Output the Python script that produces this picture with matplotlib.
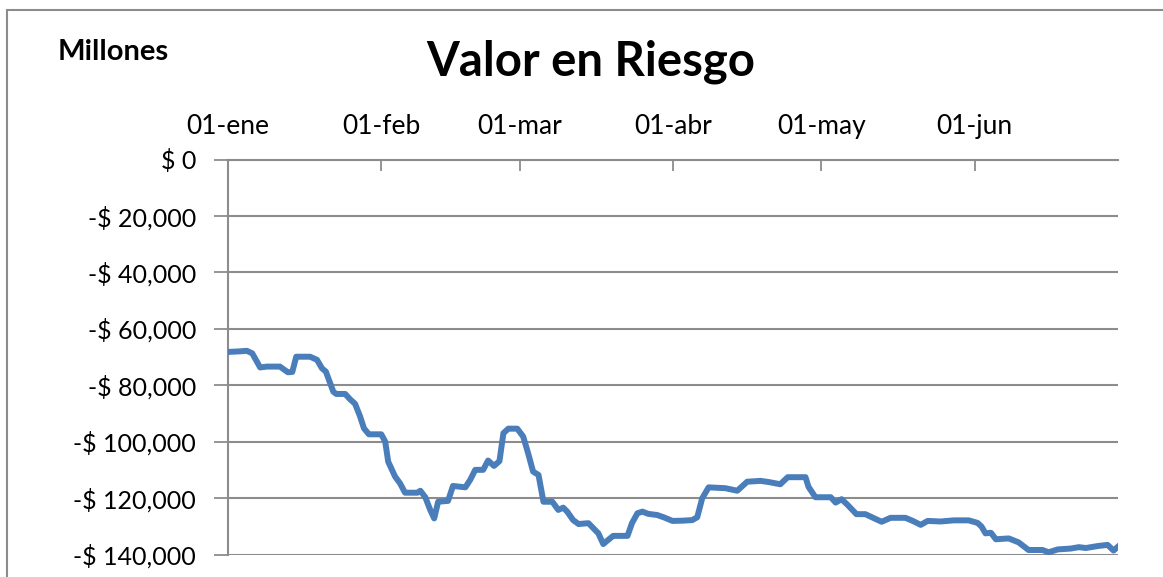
import datetime as dt
import matplotlib
matplotlib.use('Agg')
import matplotlib.pyplot as plt
from matplotlib.patches import Rectangle
from matplotlib.ticker import FuncFormatter

# dias desde el 01-ene (lecturas del grafico) y valor en riesgo en $
dias = [0, 2.4, 3.8, 4.9, 6.5, 7.9, 10.5, 12.1, 13.0, 13.8, 16.6, 18.0, 19.0, 19.8,
        21.3, 21.9, 23.7, 24.7, 25.7, 26.7, 27.5, 28.5, 31.0, 31.8, 32.4, 33.8, 34.8,
        35.8, 38.3, 38.9, 39.9, 40.9, 41.7, 42.5, 44.5, 45.5, 48.0, 49.0, 50.0, 51.6,
        52.6, 53.8, 54.9, 55.7, 56.7, 58.5, 59.7, 60.7, 61.7, 62.8, 63.8, 65.6, 66.8,
        67.8, 68.6, 69.8, 70.9, 72.9, 73.9, 74.9, 75.9, 76.7, 77.9, 80.8, 81.7, 82.8,
        83.8, 85.0, 86.8, 88.1, 89.9, 92.1, 93.9, 94.9, 95.9, 97.2, 100.6, 103.0,
        105.0, 107.7, 109.3, 111.7, 113.2, 116.8, 117.4, 118.8, 121.9, 122.9, 124.1,
        125.3, 127.1, 128.9, 130.6, 132.2, 134.0, 137.0, 138.5, 140.1, 141.5, 144.1,
        146.8, 149.8, 151.6, 152.4, 153.2, 154.3, 155.3, 157.9, 159.9, 161.9, 164.7,
        166.0, 167.8, 170.4, 172.1, 173.5, 175.9, 177.9, 179.1, 180.4]
valor = [-68200, -68000, -67800, -68700, -73700, -73400, -73400, -75400, -75300,
         -69900, -69900, -71000, -74000, -75200, -82300, -83100, -83100, -85000,
         -86600, -91000, -95300, -97400, -97400, -100000, -107100, -112400, -114800,
         -118100, -118100, -117400, -119700, -124200, -127200, -121300, -121000,
         -115700, -116200, -113500, -110000, -110000, -106700, -108600, -106900,
         -97000, -95400, -95400, -98200, -104100, -110600, -111800, -121300, -121300,
         -124200, -123400, -124800, -127800, -129200, -128900, -130700, -132500,
         -136300, -135100, -133400, -133400, -128900, -125400, -124800, -125600,
         -126000, -126800, -128100, -128000, -127800, -126800, -120100, -116200,
         -116500, -117400, -114200, -113900, -114300, -115100, -112600, -112600,
         -116000, -119700, -119700, -121600, -120400, -122400, -125700, -125700,
         -127100, -128400, -127000, -127000, -128100, -129500, -128100, -128300,
         -127900, -127900, -128800, -130100, -132500, -132300, -134600, -134300,
         -135700, -138400, -138400, -139200, -138200, -137900, -137400, -137700,
         -137000, -136600, -138600, -136600]

inicio = dt.datetime(2011, 1, 1)
fin = dt.datetime(2011, 6, 30)
meses = [dt.datetime(2011, m, 1) for m in range(1, 7)]
etiquetas = ['01-ene', '01-feb', '01-mar', '01-abr', '01-may', '01-jun']
yticks = list(range(0, -140001, -20000))

fechas = [inicio + dt.timedelta(days=d) for d in dias]

plt.rcParams['font.family'] = ['Lato', 'DejaVu Sans']

fig = plt.figure(figsize=(11.63, 5.77), dpi=100)
W, H = 1163, 577
ax = fig.add_axes([228 / W, 22.5 / H, (1118 - 228) / W, (554.5 - 159.5) / H])

gris = '#8c8c8c'
ax.plot(fechas, valor, color='#4a7ebb', lw=4.3, solid_joinstyle='round',
        solid_capstyle='round', zorder=3)

ax.set_xlim(inicio, fin)
ax.set_ylim(-140000, 0)
ax.set_yticks(yticks)
ax.yaxis.set_major_formatter(FuncFormatter(
    lambda v, p: '$ 0' if v == 0 else '-$ {:,.0f}'.format(abs(v))))
ax.grid(axis='y', color=gris, lw=1.5)
ax.set_axisbelow(True)

ax.set_xticks(meses)
ax.set_xticklabels(etiquetas)
ax.xaxis.tick_top()
ax.tick_params(axis='x', direction='in', length=8, width=1.3, color=gris,
               labelsize=19, pad=15)
ax.tick_params(axis='y', direction='out', length=10, width=1.3, color=gris,
               labelsize=18, pad=13)

for s in ['bottom', 'right']:
    ax.spines[s].set_visible(False)
for s in ['left', 'top']:
    ax.spines[s].set_color(gris)
    ax.spines[s].set_linewidth(1.5)

fig.add_artist(Rectangle((7 / W, -0.1), 1.2, (H - 10) / H + 0.1,
                         transform=fig.transFigure, fill=False,
                         edgecolor=gris, lw=1.5))

fig.text(591 / W, 1 - 62 / H, 'Valor en Riesgo', ha='center', va='center',
         fontsize=34, fontweight='bold')
fig.text(58 / W, 1 - 52 / H, 'Millones', ha='left', va='center',
         fontsize=21, fontweight='bold')

fig.savefig('out.png', dpi=100)
